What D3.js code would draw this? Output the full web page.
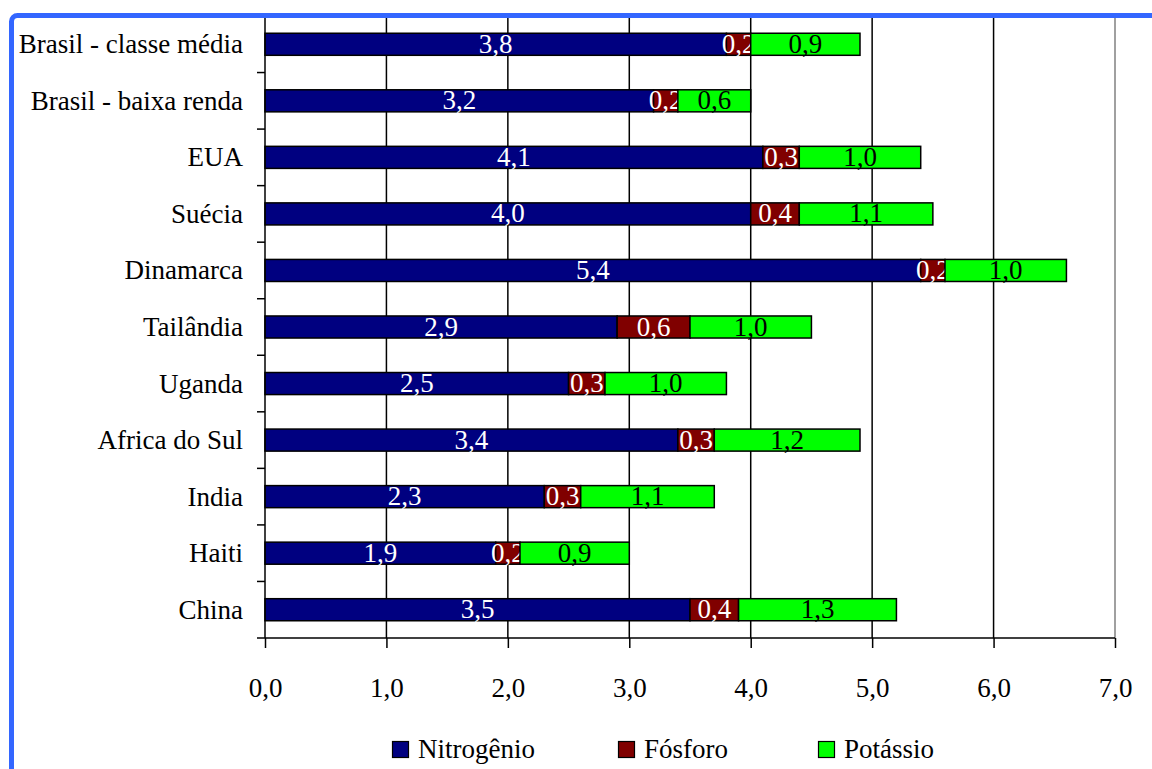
<!DOCTYPE html>
<html>
<head>
<meta charset="utf-8">
<script src="https://cdn.jsdelivr.net/npm/d3@7"></script>
<style>
  html, body { margin: 0; padding: 0; background: #fff; }
  svg { display: block; }
  svg text { font-family: "Liberation Serif", serif; }
</style>
</head>
<body>
<svg id="chart" width="1152" height="769"></svg>
<script>
// Nutrient amounts per country (stacked: nitrogen, phosphorus, potassium)
const categories = ["Brasil - classe média", "Brasil - baixa renda", "EUA", "Suécia", "Dinamarca",
  "Tailândia", "Uganda", "Africa do Sul", "India", "Haiti", "China"];
const nitrogenio = [3.8, 3.2, 4.1, 4.0, 5.4, 2.9, 2.5, 3.4, 2.3, 1.9, 3.5];
const fosforo    = [0.2, 0.2, 0.3, 0.4, 0.2, 0.6, 0.3, 0.3, 0.3, 0.2, 0.4];
const potassio   = [0.9, 0.6, 1.0, 1.1, 1.0, 1.0, 1.0, 1.2, 1.1, 0.9, 1.3];
const seriesNames = ["Nitrogênio", "Fósforo", "Potássio"];
const xTicks = [0, 1, 2, 3, 4, 5, 6, 7];

const colors = ["#000080", "#800000", "#00ff00"];
const labelColors = ["#ffffff", "#ffffff", "#000000"];
const FONT = "Liberation Serif, serif";
const FS = 27;

const svg = d3.select("#chart");
const plotLeft = 265, plotRight = 1115, plotTop = 16, plotBottom = 638;

const x = d3.scaleLinear().domain([0, 7]).range([plotLeft, plotRight]);
const y = d3.scaleBand().domain(categories).range([plotTop, plotBottom]).paddingInner(0.61).paddingOuter(0.305);
const yEdges = d3.scaleBand().domain(categories).range([plotTop, plotBottom]);

const rows = categories.map((c, i) => ({ cat: c, Nitrogênio: nitrogenio[i], Fósforo: fosforo[i], Potássio: potassio[i] }));
const stacked = d3.stack().keys(seriesNames)(rows);

// vertical gridlines
svg.append("g").selectAll("line").data(xTicks.slice(1)).join("line")
  .attr("x1", d => x(d)).attr("x2", d => x(d))
  .attr("y1", plotTop).attr("y2", plotBottom)
  .attr("stroke", d => d === 7 ? "#808080" : "#000")
  .attr("stroke-width", 1.5);

// stacked bars with value labels
const fmt = v => v.toFixed(1).replace(".", ",");
stacked.forEach((s, si) => {
  const g = svg.append("g");
  g.selectAll("rect").data(s).join("rect")
    .attr("x", d => x(d[0]))
    .attr("y", d => y(d.data.cat))
    .attr("width", d => x(d[1]) - x(d[0]))
    .attr("height", y.bandwidth())
    .attr("fill", colors[si])
    .attr("stroke", "#000")
    .attr("stroke-width", 1.5);
  g.selectAll("text").data(s).join("text")
    .attr("x", d => (x(d[0]) + x(d[1])) / 2)
    .attr("y", d => y(d.data.cat) + y.bandwidth() / 2 + 8.5)
    .attr("text-anchor", "middle")
    .attr("font-family", FONT)
    .attr("font-size", FS)
    .attr("fill", labelColors[si])
    .text(d => fmt(d[1] - d[0]));
});

// y axis line, category ticks and labels
svg.append("line").attr("x1", plotLeft).attr("x2", plotLeft).attr("y1", plotTop).attr("y2", plotBottom)
  .attr("stroke", "#000").attr("stroke-width", 1.5);
svg.append("g").selectAll("line").data(categories.slice(1)).join("line")
  .attr("x1", plotLeft - 8).attr("x2", plotLeft)
  .attr("y1", d => yEdges(d)).attr("y2", d => yEdges(d))
  .attr("stroke", "#000").attr("stroke-width", 1.5);
svg.append("g").selectAll("text").data(categories).join("text")
  .attr("x", 243)
  .attr("y", d => yEdges(d) + yEdges.bandwidth() / 2 + 9)
  .attr("text-anchor", "end")
  .attr("font-family", FONT)
  .attr("font-size", FS)
  .attr("fill", "#000")
  .text(d => d);

// x axis
const xAxis = d3.axisBottom(x).tickValues(xTicks).tickSize(10).tickPadding(30)
  .tickFormat(d => fmt(d));
const ax = svg.append("g").attr("transform", `translate(0,${plotBottom})`).call(xAxis);
ax.attr("font-family", FONT).attr("font-size", FS);
ax.select(".domain").remove();
ax.selectAll(".tick line").attr("stroke", "#000").attr("stroke-width", 1.5);
ax.selectAll(".tick text").attr("font-family", FONT).attr("font-size", FS).attr("fill", "#000");
svg.append("line").attr("x1", plotLeft - 8).attr("x2", plotRight).attr("y1", plotBottom).attr("y2", plotBottom)
  .attr("stroke", "#000").attr("stroke-width", 1.5);

// legend
const legendX = [392, 618, 818];
const lg = svg.append("g").selectAll("g").data(seriesNames).join("g")
  .attr("transform", (d, i) => `translate(${legendX[i]},741)`);
lg.append("rect").attr("x", 0.5).attr("y", 0.5).attr("width", 16).attr("height", 16)
  .attr("fill", (d, i) => colors[i]).attr("stroke", "#000").attr("stroke-width", 1.2);
lg.append("text").attr("x", 26).attr("y", 17)
  .attr("font-family", FONT).attr("font-size", FS).attr("fill", "#000").text(d => d);

// blue frame around the chart area
svg.append("rect").attr("x", 11.5).attr("y", 15.5).attr("width", 1400).attr("height", 1000)
  .attr("rx", 6).attr("fill", "none").attr("stroke", "#3366ff").attr("stroke-width", 5);
</script>
</body>
</html>
